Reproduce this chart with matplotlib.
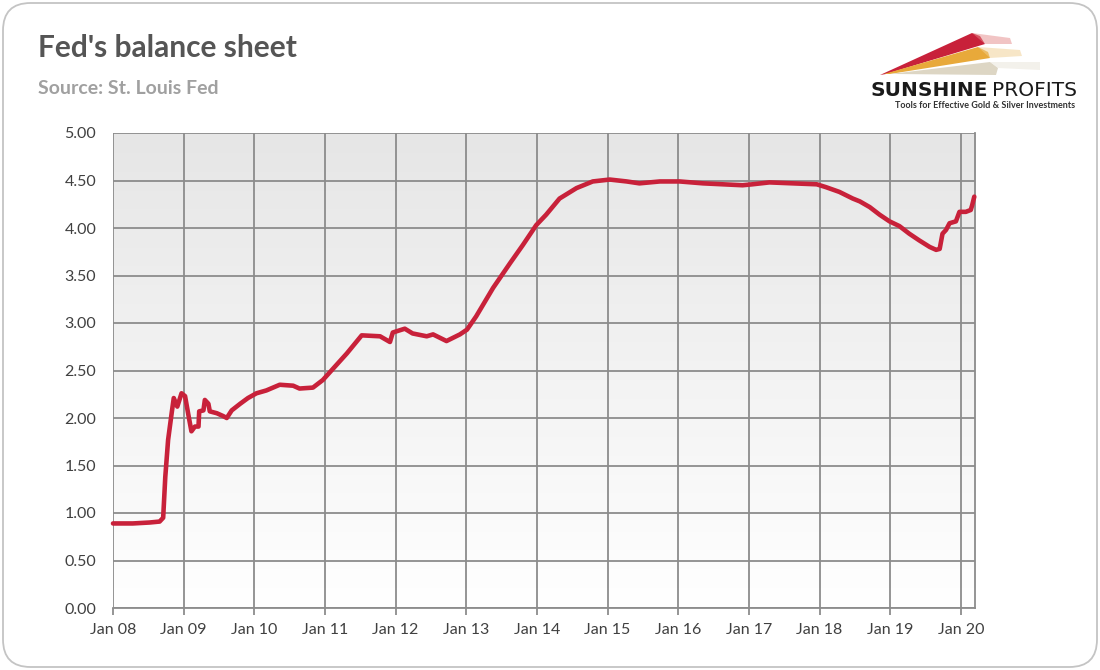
import numpy as np
import matplotlib
matplotlib.use("Agg")
import matplotlib.pyplot as plt
from matplotlib.patches import FancyBboxPatch, Polygon

plt.rcParams["font.family"] = ["Lato", "DejaVu Sans"]

# Fed total assets (trillion USD)
years = [2008.00, 2008.28, 2008.52, 2008.66, 2008.71, 2008.74, 2008.78, 2008.83,
         2008.86, 2008.91, 2008.97, 2009.02, 2009.07, 2009.11, 2009.16, 2009.21,
         2009.22, 2009.28, 2009.30, 2009.35, 2009.37, 2009.47, 2009.56, 2009.61,
         2009.68, 2009.80, 2009.91, 2010.03, 2010.17, 2010.36, 2010.55, 2010.64,
         2010.83, 2010.97, 2011.31, 2011.52, 2011.78, 2011.92, 2011.96, 2012.13,
         2012.24, 2012.44, 2012.53, 2012.72, 2012.91, 2013.01, 2013.14, 2013.38,
         2013.62, 2013.80, 2013.99, 2014.13, 2014.32, 2014.56, 2014.79, 2015.03,
         2015.27, 2015.45, 2015.74, 2016.02, 2016.35, 2016.91, 2017.05, 2017.29,
         2017.62, 2017.96, 2018.09, 2018.28, 2018.47, 2018.57, 2018.71, 2018.85,
         2018.99, 2019.13, 2019.27, 2019.41, 2019.56, 2019.65, 2019.70, 2019.74,
         2019.79, 2019.84, 2019.93, 2019.98, 2020.07, 2020.14, 2020.16, 2020.19]
assets = [0.89, 0.89, 0.90, 0.91, 0.95, 1.38, 1.77, 2.05,
          2.21, 2.12, 2.26, 2.23, 2.02, 1.86, 1.91, 1.91,
          2.07, 2.08, 2.19, 2.15, 2.07, 2.05, 2.02, 2.00,
          2.08, 2.15, 2.21, 2.26, 2.29, 2.35, 2.34, 2.31,
          2.32, 2.40, 2.68, 2.87, 2.86, 2.80, 2.90, 2.94,
          2.89, 2.86, 2.88, 2.81, 2.88, 2.93, 3.07, 3.37,
          3.63, 3.82, 4.03, 4.14, 4.31, 4.42, 4.49, 4.51,
          4.49, 4.47, 4.49, 4.49, 4.47, 4.45, 4.46, 4.48,
          4.47, 4.46, 4.43, 4.38, 4.31, 4.28, 4.22, 4.14,
          4.07, 4.02, 3.94, 3.87, 3.80, 3.77, 3.78, 3.94,
          3.98, 4.05, 4.07, 4.17, 4.17, 4.19, 4.24, 4.33]

tick_years = list(range(2008, 2021))
tick_labels = [f"Jan {y % 100:02d}" for y in tick_years]
y_ticks = [0.0, 0.5, 1.0, 1.5, 2.0, 2.5, 3.0, 3.5, 4.0, 4.5, 5.0]

W, H = 1100, 670
fig = plt.figure(figsize=(W / 100, H / 100), dpi=100)
fig.patch.set_facecolor("white")

# rounded outer frame (kept behind the axes)
frame = FancyBboxPatch((3 / W, 3 / H), 1 - 6 / W, 1 - 6 / H,
                       boxstyle="round,pad=0,rounding_size=0.025",
                       transform=fig.transFigure, fc="none",
                       ec="#c4c4c4", lw=1.3, mutation_aspect=W / H, zorder=-10)
fig.patches.append(frame)

ax = fig.add_axes([113 / W, 1 - 608 / H, (975 - 113) / W, (608 - 133) / H])
ax.set_xlim(2008, 2020.2)
ax.set_ylim(0, 5)

# grey-to-white background gradient
grad = np.linspace(0, 1, 256).reshape(-1, 1)
ax.imshow(grad, extent=[0, 1, 0, 1], transform=ax.transAxes, aspect="auto",
          cmap=matplotlib.colors.LinearSegmentedColormap.from_list("g", ["#ffffff", "#e6e6e6"]),
          origin="lower", zorder=0)

grid_c = "#8c8c8c"
ax.set_xticks(tick_years)
ax.set_xticklabels(tick_labels)
ax.set_yticks(y_ticks)
ax.set_yticklabels([f"{v:.2f}" for v in y_ticks])
ax.grid(True, color=grid_c, lw=1.3, zorder=1)
ax.set_axisbelow(True)
ax.tick_params(axis="x", length=5, width=1.3, color=grid_c, pad=6,
               labelsize=11.5, labelcolor="#404040")
ax.tick_params(axis="y", length=0, pad=12, labelsize=11.5, labelcolor="#404040")
for s in ["top", "left"]:
    ax.spines[s].set_visible(False)
for s in ["bottom", "right"]:
    ax.spines[s].set_color(grid_c)
    ax.spines[s].set_linewidth(1.3)

ax.plot(years, assets, color="#c8213a", lw=3.3, solid_joinstyle="round",
        solid_capstyle="round", zorder=3, clip_on=False)

# titles
fig.text(38 / W, 1 - 48 / H, "Fed's balance sheet", fontsize=21.5, fontweight="bold",
         color="#555555", va="center")
fig.text(38 / W, 1 - 88 / H, "Source: St. Louis Fed", fontsize=14, fontweight="bold",
         color="#a0a0a0", va="center")

# logo streaks
def streak(pts, color, alpha=1.0):
    fig.patches.append(Polygon([(x / W, 1 - y / H) for x, y in pts], closed=True,
                               transform=fig.transFigure, fc=color, ec="none", alpha=alpha))

streak([(880, 75), (972, 33), (980, 36), (985, 44), (886, 74)], "#c8213a")
streak([(972, 33), (1010, 38), (1012, 44), (985, 44)], "#e58a8a", 0.5)
streak([(884, 74), (978, 47), (988, 52), (990, 58), (890, 74)], "#e8a93a")
streak([(978, 47), (1020, 50), (1022, 56), (990, 58)], "#f0cf90", 0.5)
streak([(890, 74), (990, 62), (998, 68), (996, 75), (895, 74)], "#ddd6c4")
streak([(990, 62), (1040, 62), (1040, 70), (998, 68)], "#ece8de", 0.6)

logo_font = ["DejaVu Sans"]
t1 = fig.text(870 / W, 1 - 91 / H, "SUNSHINE", fontsize=14.5, fontweight="bold",
              family=logo_font, color="#1a1a1a", va="center", ha="left")
fig.canvas.draw()
bb = t1.get_window_extent()
fig.text((bb.x1 + 4) / W, 1 - 91 / H, "PROFITS", fontsize=14.5, family=logo_font,
         color="#1a1a1a", va="center", ha="left")
fig.text(1075 / W, 1 - 106 / H, "Tools for Effective Gold & Silver Investments",
         fontsize=6.5, fontweight="bold", color="#333333", va="center", ha="right")

fig.savefig("out.png", dpi=100)
